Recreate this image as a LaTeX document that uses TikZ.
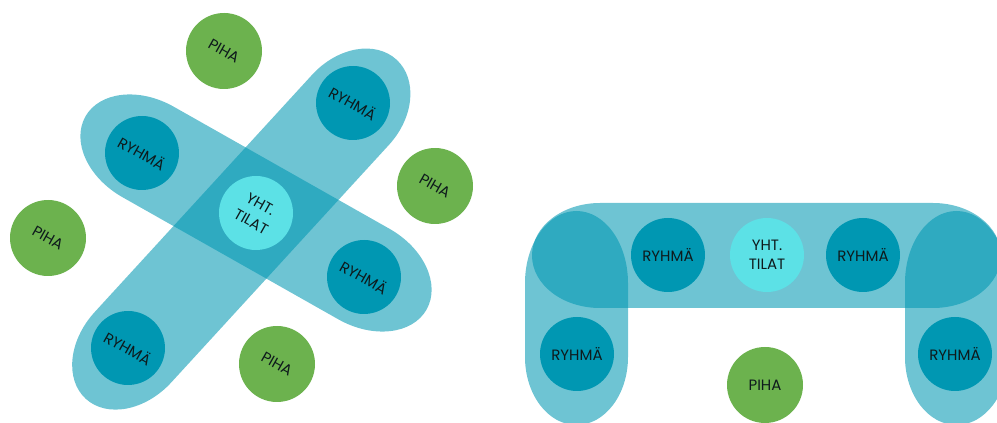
\documentclass[tikz,border=0pt]{standalone}
\usepackage{fontspec}
\setmainfont{Poppins}
\begin{document}
\begin{tikzpicture}[x=1pt,y=1pt,
  band/.style={fill=ryhma,fill opacity=0.57},
  dot/.style={circle,inner sep=0pt,minimum size=74pt,text=txt,align=center,font=\fontsize{15}{19.5}\selectfont},
  ryhmanode/.style={dot,fill=ryhma},
  yhtnode/.style={dot,fill=yht},
  pihanode/.style={dot,fill=piha,minimum size=76pt}]
\definecolor{ryhma}{HTML}{0097B2}
\definecolor{yht}{HTML}{5CE1E6}
\definecolor{piha}{HTML}{6CB24E}
\definecolor{txt}{HTML}{0E1A1C}
\useasboundingbox (0,0) rectangle (997,423);
% ---------- left figure: bands ----------
\begin{scope}[shift={(256,210)},rotate=-29.5]
  \fill[band] (-124pt,-52pt) -- (124pt,-52pt)
     arc[start angle=-90,end angle=90,x radius=72pt,y radius=52pt]
     -- (-124pt,52pt)
     arc[start angle=90,end angle=270,x radius=72pt,y radius=52pt] -- cycle;
\end{scope}
\begin{scope}[shift={(256,210)},rotate=47.5]
  \fill[band] (-182pt,-52pt) -- (140pt,-52pt)
     arc[start angle=-90,end angle=90,x radius=68pt,y radius=52pt]
     -- (-182pt,52pt)
     arc[start angle=90,end angle=270,x radius=70pt,y radius=52pt] -- cycle;
\end{scope}
% ---------- left figure: circles ----------
\node[yhtnode,rotate=-29.5] (lc) at (256,210) {YHT.\\TILAT};
\node[ryhmanode,rotate=-29.5] (ltr) at (353,320) {RYHMÄ};
\node[ryhmanode,rotate=-29.5] (ll) at (142,270) {RYHMÄ};
\node[ryhmanode,rotate=-29.5] (lr) at (364,146) {RYHMÄ};
\node[ryhmanode,rotate=-29.5] (lbl) at (128,75) {RYHMÄ};
\node[pihanode,rotate=-29.5] (pt) at (224,372) {PIHA};
\node[pihanode,rotate=-29.5] (pr) at (435,237) {PIHA};
\node[pihanode,rotate=-29.5] (pl) at (48,185) {PIHA};
\node[pihanode,rotate=-29.5] (pb) at (277,59) {PIHA};
% ---------- right figure: bands ----------
\fill[band] (600pt,115pt) -- (933pt,115pt)
   arc[start angle=-90,end angle=90,x radius=68pt,y radius=52.5pt]
   -- (600pt,220pt)
   arc[start angle=90,end angle=270,x radius=68pt,y radius=52.5pt] -- cycle;
\fill[band] (525pt,66pt) -- (525pt,140pt)
   arc[start angle=180,end angle=0,x radius=51.5pt,y radius=72pt]
   -- (628pt,66pt)
   arc[start angle=0,end angle=-180,x radius=51.5pt,y radius=68pt] -- cycle;
\fill[band] (905pt,66pt) -- (905pt,140pt)
   arc[start angle=180,end angle=0,x radius=51.5pt,y radius=72pt]
   -- (1008pt,66pt)
   arc[start angle=0,end angle=-180,x radius=51.5pt,y radius=68pt] -- cycle;
% ---------- right figure: circles ----------
\node[yhtnode] (rc) at (767,168) {YHT.\\TILAT};
\node[ryhmanode] (rtl) at (668,168) {RYHMÄ};
\node[ryhmanode] (rtr) at (863,168) {RYHMÄ};
\node[ryhmanode] (rbl) at (577,69) {RYHMÄ};
\node[ryhmanode] (rbr) at (955,69) {RYHMÄ};
\node[pihanode] (rp) at (765,38) {PIHA};
\end{tikzpicture}
\end{document}
